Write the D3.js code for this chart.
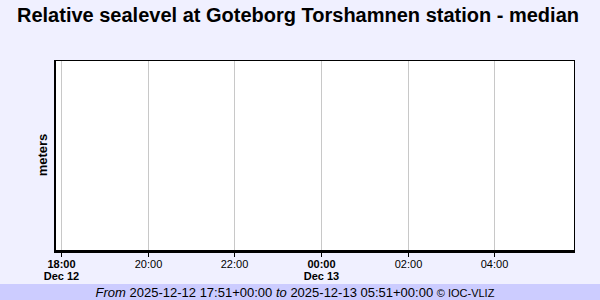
<!DOCTYPE html>
<html><head><meta charset="utf-8">
<script src="https://cdn.jsdelivr.net/npm/d3@7"></script>
<style>
html,body{margin:0;padding:0;background:#f0f0ff;}
svg{display:block;font-family:"Liberation Sans",Arial,sans-serif;}
</style></head>
<body>
<svg id="c" width="600" height="300"></svg>
<script>
const titleText = "Relative sealevel at Goteborg Torshamnen station - median";
const yLabel = "meters";
const startTime = "2025-12-12T17:51:00Z";
const endTime = "2025-12-13T05:51:00Z";
const tickTimes = ["2025-12-12T18:00:00Z","2025-12-12T20:00:00Z","2025-12-12T22:00:00Z","2025-12-13T00:00:00Z","2025-12-13T02:00:00Z","2025-12-13T04:00:00Z"];
const tickLabels = ["18:00","20:00","22:00","00:00","02:00","04:00"];
const tickDates = ["Dec 12","","","Dec 13","",""];
const seriesTimes = [];
const seriesValues = [];

const svg = d3.select("#c");
const W = 600, H = 300;
const m = {l:55, r:25, t:60, b:49};
const x = d3.scaleUtc().domain([new Date(startTime), new Date(endTime)]).range([m.l, W - m.r]);
const y = d3.scaleLinear().domain([0,1]).range([H - m.b, m.t]);

svg.append("rect").attr("width",W).attr("height",H).attr("fill","#f0f0ff");
svg.append("rect").attr("x",0).attr("y",284).attr("width",W).attr("height",16).attr("fill","#ccccff");

svg.append("text").attr("x",298).attr("y",22).attr("text-anchor","middle")
  .attr("font-size","20px").attr("font-weight","bold").attr("fill","#000").text(titleText);

// plot area
svg.append("rect").attr("x",m.l).attr("y",m.t).attr("width",W-m.l-m.r).attr("height",H-m.t-m.b).attr("fill","#fff");

const ticks = tickTimes.map(d=>new Date(d));
// grid
svg.append("g").selectAll("line").data(ticks).join("line")
  .attr("x1",d=>Math.floor(x(d))+0.5).attr("x2",d=>Math.floor(x(d))+0.5)
  .attr("y1",m.t).attr("y2",H-m.b).attr("stroke","#c8c8c8").attr("stroke-width",1);

// series (empty)
const line = d3.line().x((d,i)=>x(new Date(seriesTimes[i]))).y(d=>y(d));
svg.append("path").datum(seriesValues).attr("d",line).attr("fill","none").attr("stroke","#0000cc");

// border
svg.append("rect").attr("x",m.l+0.5).attr("y",m.t+0.5).attr("width",W-m.l-m.r-1).attr("height",H-m.t-m.b-1)
  .attr("fill","none").attr("stroke","#000").attr("stroke-width",1);
svg.append("line").attr("x1",m.l).attr("x2",m.l).attr("y1",m.t).attr("y2",H-m.b+2).attr("stroke","#000").attr("stroke-width",2);
svg.append("line").attr("x1",m.l).attr("x2",W-m.r).attr("y1",H-m.b+1).attr("y2",H-m.b+1).attr("stroke","#000").attr("stroke-width",2);

// x axis ticks
const ax = svg.append("g");
ticks.forEach((t,i)=>{
  const px = Math.floor(x(t))+0.5;
  ax.append("line").attr("x1",px).attr("x2",px).attr("y1",H-m.b+2).attr("y2",H-m.b+6).attr("stroke","#000");
  const bold = tickDates[i] !== "";
  ax.append("text").attr("x",px).attr("y",268).attr("text-anchor","middle").attr("font-size","11px")
    .attr("font-weight",bold?"bold":"normal").attr("fill","#000").text(tickLabels[i]);
  if (bold) ax.append("text").attr("x",px).attr("y",280).attr("text-anchor","middle").attr("font-size","11px")
    .attr("font-weight","bold").attr("fill","#000").text(tickDates[i]);
});

// y label
svg.append("text").attr("transform","translate(47,155) rotate(-90)").attr("text-anchor","middle")
  .attr("font-size","13px").attr("font-weight","bold").attr("fill","#000").text(yLabel);

// footer
const f = svg.append("text").attr("x",295).attr("y",297).attr("text-anchor","middle").attr("font-size","13px").attr("fill","#000");
f.append("tspan").attr("font-style","italic").text("From ");
f.append("tspan").text("2025-12-12 17:51+00:00 ");
f.append("tspan").attr("font-style","italic").text("to ");
f.append("tspan").text("2025-12-13 05:51+00:00 ");
f.append("tspan").attr("font-size","11px").text("© IOC-VLIZ");
</script>
</body></html>
